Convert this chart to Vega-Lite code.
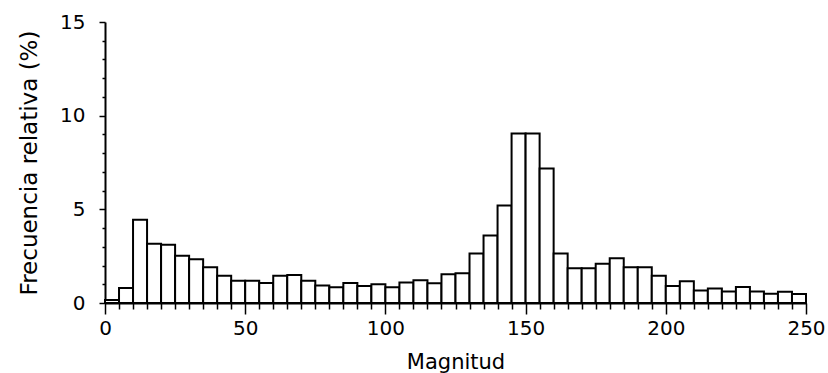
{
  "$schema": "https://vega.github.io/schema/vega-lite/v6.json",
  "width": 701,
  "height": 281,
  "autosize": {"type": "none"},
  "padding": {"left": 105, "top": 22, "right": 22, "bottom": 70},
  "background": "white",
  "config": {
    "view": {"stroke": null},
    "font": "DejaVu Sans",
    "axis": {
      "labelFont": "DejaVu Sans",
      "titleFont": "DejaVu Sans",
      "labelColor": "black",
      "titleColor": "black",
      "domainColor": "black",
      "tickColor": "black",
      "domainWidth": 2,
      "tickWidth": 1.5,
      "titleFontWeight": "normal",
      "grid": false,
      "labelOverlap": false,
      "labelFlush": false
    }
  },
  "data": {
    "values": [
      {"start": 0, "end": 5, "freq": 0.16},
      {"start": 5, "end": 10, "freq": 0.80},
      {"start": 10, "end": 15, "freq": 4.45},
      {"start": 15, "end": 20, "freq": 3.16},
      {"start": 20, "end": 25, "freq": 3.11},
      {"start": 25, "end": 30, "freq": 2.52},
      {"start": 30, "end": 35, "freq": 2.34},
      {"start": 35, "end": 40, "freq": 1.91},
      {"start": 40, "end": 45, "freq": 1.45},
      {"start": 45, "end": 50, "freq": 1.19},
      {"start": 50, "end": 55, "freq": 1.19},
      {"start": 55, "end": 60, "freq": 1.07},
      {"start": 60, "end": 65, "freq": 1.45},
      {"start": 65, "end": 70, "freq": 1.50},
      {"start": 70, "end": 75, "freq": 1.19},
      {"start": 75, "end": 80, "freq": 0.93},
      {"start": 80, "end": 85, "freq": 0.84},
      {"start": 85, "end": 90, "freq": 1.07},
      {"start": 90, "end": 95, "freq": 0.91},
      {"start": 95, "end": 100, "freq": 1.0},
      {"start": 100, "end": 105, "freq": 0.84},
      {"start": 105, "end": 110, "freq": 1.10},
      {"start": 110, "end": 115, "freq": 1.21},
      {"start": 115, "end": 120, "freq": 1.05},
      {"start": 120, "end": 125, "freq": 1.53},
      {"start": 125, "end": 130, "freq": 1.59},
      {"start": 130, "end": 135, "freq": 2.64},
      {"start": 135, "end": 140, "freq": 3.60},
      {"start": 140, "end": 145, "freq": 5.21},
      {"start": 145, "end": 150, "freq": 9.05},
      {"start": 150, "end": 155, "freq": 9.05},
      {"start": 155, "end": 160, "freq": 7.18},
      {"start": 160, "end": 165, "freq": 2.64},
      {"start": 165, "end": 170, "freq": 1.85},
      {"start": 170, "end": 175, "freq": 1.85},
      {"start": 175, "end": 180, "freq": 2.10},
      {"start": 180, "end": 185, "freq": 2.39},
      {"start": 185, "end": 190, "freq": 1.91},
      {"start": 190, "end": 195, "freq": 1.91},
      {"start": 195, "end": 200, "freq": 1.45},
      {"start": 200, "end": 205, "freq": 0.91},
      {"start": 205, "end": 210, "freq": 1.16},
      {"start": 210, "end": 215, "freq": 0.67},
      {"start": 215, "end": 220, "freq": 0.78},
      {"start": 220, "end": 225, "freq": 0.62},
      {"start": 225, "end": 230, "freq": 0.86},
      {"start": 230, "end": 235, "freq": 0.62},
      {"start": 235, "end": 240, "freq": 0.50},
      {"start": 240, "end": 245, "freq": 0.60},
      {"start": 245, "end": 250, "freq": 0.48}
    ]
  },
  "mark": {"type": "bar", "fill": "white", "stroke": "black", "strokeWidth": 2},
  "encoding": {
    "x": {
      "field": "start",
      "type": "quantitative",
      "scale": {"domain": [0, 250], "nice": false, "zero": false},
      "axis": {
        "title": "Magnitud",
        "titleFontSize": 21,
        "labelFontSize": 20,
        "titlePadding": 13,
        "values": [0,5,10,15,20,25,30,35,40,45,50,55,60,65,70,75,80,85,90,95,100,105,110,115,120,125,130,135,140,145,150,155,160,165,170,175,180,185,190,195,200,205,210,215,220,225,230,235,240,245,250],
        "labelExpr": "datum.value % 50 === 0 ? datum.label : ''",
        "tickSize": {"condition": {"test": "datum.value % 50 === 0", "value": 11}, "value": 6},
        "labelPadding": 4
      }
    },
    "x2": {"field": "end"},
    "y": {
      "field": "freq",
      "type": "quantitative",
      "scale": {"domain": [0, 15], "nice": false},
      "axis": {
        "title": "Frecuencia relativa (%)",
        "titleFontSize": 23,
        "labelFontSize": 20,
        "values": [0,1,2,3,4,5,6,7,8,9,10,11,12,13,14,15],
        "labelExpr": "datum.value % 5 === 0 ? datum.label : ''",
        "tickSize": {"condition": {"test": "datum.value % 5 === 0", "value": 6}, "value": 3},
        "labelPadding": 14,
        "titlePadding": 18
      }
    },
    "y2": {"datum": 0}
  }
}
